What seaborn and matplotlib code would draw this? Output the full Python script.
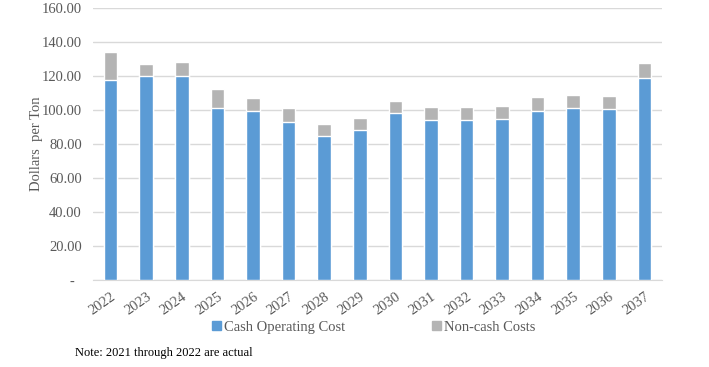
import pandas as pd
import matplotlib
import matplotlib.pyplot as plt
matplotlib.use('Agg')
import seaborn as sns
from matplotlib.patches import Patch

years = [str(y) for y in range(2022, 2038)]
cash_cost = [117.5, 120.0, 120.0, 101.0, 99.6, 92.8, 84.7, 88.0,
             98.2, 94.1, 94.1, 94.9, 99.6, 101.0, 100.4, 119.0]
non_cash = [16.5, 7.0, 8.4, 11.2, 7.3, 8.2, 7.3, 7.3,
            7.3, 7.5, 7.5, 7.3, 7.8, 7.8, 7.8, 8.8]
y_ticks = [0, 20, 40, 60, 80, 100, 120, 140, 160]

df = pd.DataFrame({'year': years, 'cash': cash_cost, 'noncash': non_cash})
df['total'] = df['cash'] + df['noncash']

blue = '#5B9BD5'
grey = '#B4B4B4'
txt = '#595959'

sns.set_style('white')
plt.rcParams['font.family'] = ['Liberation Serif', 'DejaVu Serif']

fig = plt.figure(figsize=(7.09, 3.67), dpi=100)
ax = fig.add_axes([0.131, 0.237, 0.803, 0.741])

# grey = total height, blue cash part drawn over it
sns.barplot(data=df, x='year', y='total', color=grey, width=0.38,
            saturation=1, ax=ax, zorder=3)
sns.barplot(data=df, x='year', y='cash', color=blue, width=0.38,
            saturation=1, ax=ax, zorder=3)

ax.set_ylim(0, 160)
ax.set_xlim(-0.5, len(years) - 0.5)
ax.set_yticks(y_ticks)
ax.set_yticklabels(['-  ' if v == 0 else f'{v:.2f}' for v in y_ticks])
ax.yaxis.grid(True, color='#D9D9D9', linewidth=1, zorder=0)
ax.set_axisbelow(True)
for s in ['top', 'right', 'left']:
    ax.spines[s].set_visible(False)
ax.spines['bottom'].set_color('#D9D9D9')
ax.tick_params(axis='both', length=0, labelcolor=txt, labelsize=10.5)
ax.tick_params(axis='y', pad=8)
ax.tick_params(axis='x', pad=7)
plt.setp(ax.get_xticklabels(), rotation=35, ha='right', rotation_mode='anchor')
ax.set_xlabel('')
ax.set_ylabel('Dollars  per Ton', color=txt, fontsize=10.5, labelpad=-1)

handles = [Patch(color=blue, label='Cash Operating Cost'),
           Patch(color=grey, label='Non-cash Costs')]
fig.legend(handles=handles, loc='center', bbox_to_anchor=(0.527, 0.108),
           ncol=2, frameon=False, fontsize=10.5, handlelength=0.6,
           handleheight=0.6, handletextpad=0.2, columnspacing=6,
           labelcolor=txt)

fig.text(0.106, 0.03, 'Note: 2021 through 2022 are actual', fontsize=9,
         color='black')

fig.savefig('out.png', dpi=100)
